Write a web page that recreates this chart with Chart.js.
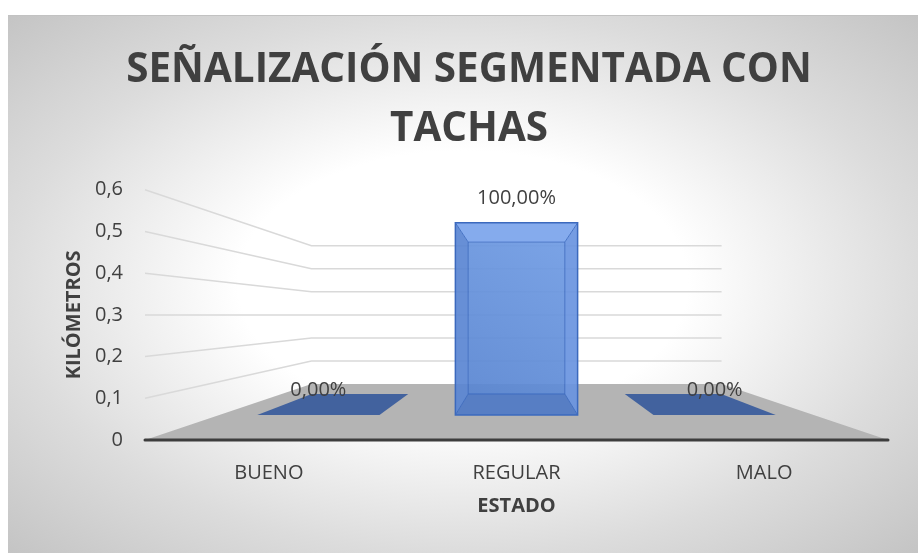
<!DOCTYPE html>
<html>
<head>
<meta charset="utf-8">
<title>Señalización segmentada con tachas</title>
<script src="https://cdn.jsdelivr.net/npm/chart.js@4.4.1/dist/chart.umd.min.js"></script>
<style>
  html, body { margin: 0; padding: 0; background: #ffffff; }
  #frame {
    position: absolute; left: 8px; top: 15px; width: 910px; height: 538px;
    background: radial-gradient(ellipse farthest-corner at 50% 50%,
      #ffffff 0%, #ffffff 35%, #dcdcdc 70.7%, #c4c4c4 100%);
    box-shadow: inset 0 1px 0 #c2c2c2;
  }
  canvas { display: block; }
</style>
</head>
<body>
<div id="frame">
  <canvas id="chart" width="910" height="538"></canvas>
</div>
<script>
const chartTitle = ['SEÑALIZACIÓN SEGMENTADA CON', 'TACHAS'];
const categories = ['BUENO', 'REGULAR', 'MALO'];
const kilometros = [0, 0.576, 0];
const yTicks = [0, 0.1, 0.2, 0.3, 0.4, 0.5, 0.6];
const yTitle = 'KILÓMETROS';
const xTitle = 'ESTADO';

const FONT = "'Open Sans', 'DejaVu Sans', sans-serif";
const TEXT = '#404040';

// perspective: scale factors toward the vanishing point (1 = front plane)
const WALL = 0.552;
const BAR_FRONT = 0.8;
const BAR_BACK = 0.632;

const total = kilometros.reduce((a, b) => a + b, 0);
const pctLabel = v => (total ? v / total * 100 : 0).toFixed(2).replace('.', ',') + '%';

function quad(ctx, pts, fill, stroke, lw) {
  ctx.beginPath();
  ctx.moveTo(pts[0][0], pts[0][1]);
  for (let i = 1; i < pts.length; i++) ctx.lineTo(pts[i][0], pts[i][1]);
  ctx.closePath();
  if (fill) { ctx.fillStyle = fill; ctx.fill(); }
  if (stroke) { ctx.strokeStyle = stroke; ctx.lineWidth = lw || 1; ctx.stroke(); }
}

const box3d = {
  id: 'box3d',
  setup(chart) {
    const {chartArea: a, scales: {y}} = chart;
    const vx = (a.left + a.right) / 2;
    const vy = y.getPixelForValue((y.min + y.max) / 2);
    return (px, py, s) => [vx + (px - vx) * s, vy + (py - vy) * s];
  },
  beforeDatasetsDraw(chart) {
    const {ctx, chartArea: a, scales: {y}} = chart;
    const proj = this.setup(chart);
    const y0 = y.getPixelForValue(0);
    ctx.save();

    // side wall and back wall gridlines
    ctx.strokeStyle = '#d9d9d9';
    ctx.lineWidth = 1.5;
    yTicks.filter(v => v > 0).forEach(v => {
      const py = y.getPixelForValue(v);
      const bl = proj(a.left, py, WALL);
      const br = proj(a.right, py, WALL);
      ctx.beginPath();
      ctx.moveTo(a.left, py);
      ctx.lineTo(bl[0], bl[1]);
      ctx.lineTo(br[0], br[1]);
      ctx.stroke();
    });

    // floor
    quad(ctx, [[a.left, y0], proj(a.left, y0, WALL), proj(a.right, y0, WALL), [a.right, y0]], '#b4b4b4');

    // front axis line
    ctx.strokeStyle = '#3d3d3d';
    ctx.lineWidth = 3;
    ctx.lineCap = 'round';
    ctx.beginPath();
    ctx.moveTo(a.left, y0);
    ctx.lineTo(a.right, y0);
    ctx.stroke();
    ctx.restore();
  },
  afterDatasetsDraw(chart) {
    const {ctx} = chart;
    const proj = this.setup(chart);
    const meta = chart.getDatasetMeta(0);
    ctx.save();
    meta.data.forEach((bar, i) => {
      const {x, y, base, width} = bar.getProps(['x', 'y', 'base', 'width'], true);
      const xl = x - width / 2, xr = x + width / 2;
      const fTL = proj(xl, y, BAR_FRONT), fTR = proj(xr, y, BAR_FRONT);
      const fBL = proj(xl, base, BAR_FRONT), fBR = proj(xr, base, BAR_FRONT);
      const bTL = proj(xl, y, BAR_BACK), bTR = proj(xr, y, BAR_BACK);
      const bBL = proj(xl, base, BAR_BACK), bBR = proj(xr, base, BAR_BACK);

      if (Math.abs(base - y) < 0.5) {
        // zero value: only the flat top sits on the floor
        quad(ctx, [fBL, fBR, bBR, bBL], '#42629e');
      } else {
        ctx.globalAlpha = 0.92;
        const g = ctx.createLinearGradient(fBL[0], fBL[1], fTR[0], fTR[1]);
        g.addColorStop(0, '#5582cf');
        g.addColorStop(1, '#729ee6');
        quad(ctx, [bTL, bTR, bBR, bBL], g);
        quad(ctx, [fBL, fBR, bBR, bBL], '#4f7ac6');
        quad(ctx, [fTL, bTL, bBL, fBL], '#5a86d3');
        quad(ctx, [fTR, bTR, bBR, fBR], '#6994e0');
        quad(ctx, [fTL, fTR, bTR, bTL], '#7ba4ec');
        ctx.globalAlpha = 1;
        const edge = 'rgba(58,104,190,0.85)';
        quad(ctx, [bTL, bTR, bBR, bBL], null, edge, 1);
        [[fTL, bTL], [fTR, bTR], [fBL, bBL], [fBR, bBR]].forEach(([p, q]) => {
          ctx.beginPath();
          ctx.moveTo(p[0], p[1]);
          ctx.lineTo(q[0], q[1]);
          ctx.strokeStyle = edge;
          ctx.lineWidth = 1;
          ctx.stroke();
        });
        quad(ctx, [fTL, fTR, fBR, fBL], null, '#3b69bd', 1.5);
      }

      // data label above the front top edge
      const anchor = proj(x, y, BAR_FRONT);
      ctx.fillStyle = TEXT;
      ctx.font = `20px ${FONT}`;
      ctx.textAlign = 'center';
      ctx.textBaseline = 'middle';
      ctx.fillText(pctLabel(kilometros[i]), anchor[0], anchor[1] - 25);
    });
    ctx.restore();
  }
};

new Chart(document.getElementById('chart'), {
  type: 'bar',
  data: {
    labels: categories,
    datasets: [{
      data: kilometros,
      backgroundColor: 'rgba(0,0,0,0)',
      borderWidth: 0,
      categoryPercentage: 1,
      barPercentage: 0.617
    }]
  },
  options: {
    responsive: false,
    animation: false,
    events: [],
    layout: { padding: { left: 42, right: 30, top: 0, bottom: 0 } },
    plugins: {
      legend: { display: false },
      tooltip: { enabled: false },
      title: {
        display: true,
        text: chartTitle,
        color: TEXT,
        font: { family: FONT, size: 40.4, weight: 'bold', lineHeight: 1.47 },
        padding: { top: 25.5, bottom: 30.5 }
      }
    },
    scales: {
      x: {
        grid: { display: false, drawTicks: false },
        border: { display: false },
        ticks: { color: TEXT, font: { family: FONT, size: 20 }, padding: 21 },
        title: {
          display: true, text: xTitle, color: TEXT,
          font: { family: FONT, size: 20, weight: 'bold' },
          padding: { top: 0, bottom: 35 }
        },
        afterFit: s => { s.height = 113; }
      },
      y: {
        min: 0,
        max: 0.6,
        grid: { display: false, drawTicks: false },
        border: { display: false },
        afterBuildTicks: s => { s.ticks = yTicks.map(v => ({ value: v })); },
        ticks: {
          color: TEXT,
          font: { family: FONT, size: 20 },
          padding: 22,
          callback: v => String(v).replace('.', ',')
        },
        title: {
          display: true, text: yTitle, color: TEXT,
          font: { family: FONT, size: 20, weight: 'bold' },
          padding: { top: 12, bottom: 0 }
        },
        afterFit: s => { s.width = 95; }
      }
    }
  },
  plugins: [box3d]
});
</script>
</body>
</html>
